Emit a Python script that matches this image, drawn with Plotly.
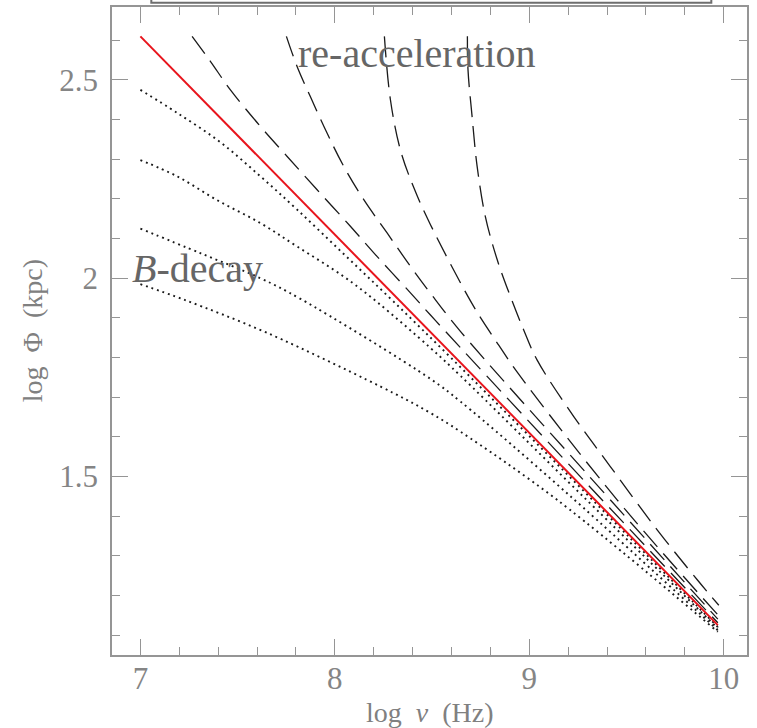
import plotly.graph_objects as go

# ---- data (log nu [Hz], log Phi [kpc]) ----
red_x = [7.0, 9.97]
red_y = [2.61, 1.125]

# re-acceleration curves (dashed)
a1_x = [7.266, 7.360, 7.463, 7.617, 7.755, 7.909, 8.080, 8.217, 8.389, 8.492, 8.646, 9.3, 9.97]
a1_y = [2.61, 2.547, 2.475, 2.383, 2.307, 2.223, 2.131, 2.055, 1.963, 1.907, 1.825, 1.48, 1.131]
a2_x = [7.751, 7.806, 7.874, 7.960, 8.046, 8.149, 8.269, 8.389, 8.492, 8.646, 9.3, 9.97]
a2_y = [2.61, 2.534, 2.458, 2.366, 2.282, 2.198, 2.114, 2.030, 1.962, 1.866, 1.505, 1.14]
a3_x = [8.255, 8.286, 8.337, 8.404, 8.492, 8.714, 8.843, 8.941, 9.452, 9.97]
a3_y = [2.61, 2.45, 2.324, 2.231, 2.135, 1.929, 1.831, 1.761, 1.441, 1.151]
a4_x = [8.682, 8.685, 8.706, 8.732, 8.774, 8.835, 8.903, 8.971, 9.040, 9.229, 9.417, 9.657, 9.863, 9.975]
a4_y = [2.61, 2.526, 2.408, 2.282, 2.156, 2.047, 1.954, 1.870, 1.794, 1.651, 1.525, 1.366, 1.24, 1.175]

# B-decay curves (dotted)
d1_x = [7.0, 7.189, 7.411, 7.617, 7.806, 8.05, 8.3, 8.6, 9.0, 9.5, 9.97]
d1_y = [2.475, 2.417, 2.343, 2.257, 2.173, 2.059, 1.942, 1.798, 1.602, 1.354, 1.120]
d2_x = [7.0, 7.189, 7.394, 7.617, 7.806, 8.046, 8.217, 8.492, 8.646, 9.28, 9.97]
d2_y = [2.298, 2.257, 2.197, 2.139, 2.080, 2.004, 1.940, 1.824, 1.754, 1.448, 1.117]
d3_x = [7.0, 7.309, 7.617, 7.823, 8.492, 8.646, 9.212, 9.97]
d3_y = [2.125, 2.063, 2.0, 1.948, 1.746, 1.689, 1.45, 1.112]
d4_x = [7.0, 7.223, 7.652, 8.303, 8.492, 8.646, 9.143, 9.97]
d4_y = [1.985, 1.946, 1.862, 1.710, 1.660, 1.613, 1.441, 1.108]

x_major = [7, 8, 9, 10]
x_major_text = ["7", "8", "9", "10"]
x_minor = [7.2, 7.4, 7.6, 7.8, 8.2, 8.4, 8.6, 8.8, 9.2, 9.4, 9.6, 9.8]
y_major = [1.5, 2.0, 2.5]
y_major_text = ["1.5", "2", "2.5"]
y_minor = [1.1, 1.2, 1.3, 1.4, 1.6, 1.7, 1.8, 1.9, 2.1, 2.2, 2.3, 2.4, 2.6]

DASH_STYLE = dict(color="#1a1a1a", width=1.3, dash="21px,9px", shape="spline")
DOT_STYLE = dict(color="#1a1a1a", width=1.9, dash="1.9px,3.9px", shape="spline")

fig = go.Figure()
for xs, ys in [(a1_x, a1_y), (a2_x, a2_y), (a3_x, a3_y), (a4_x, a4_y)]:
    fig.add_trace(go.Scatter(x=xs, y=ys, mode="lines", line=DASH_STYLE, showlegend=False, hoverinfo="skip"))
for xs, ys in [(d1_x, d1_y), (d2_x, d2_y), (d3_x, d3_y), (d4_x, d4_y)]:
    fig.add_trace(go.Scatter(x=xs, y=ys, mode="lines", line=DOT_STYLE, showlegend=False, hoverinfo="skip"))
fig.add_trace(go.Scatter(x=red_x, y=red_y, mode="lines", line=dict(color="#e8141c", width=2.0),
                         showlegend=False, hoverinfo="skip"))

AX_COLOR = "#959595"
TICK_FONT = dict(family="Liberation Serif", size=31, color="#858585")

fig.update_xaxes(
    range=[6.854, 10.12], showgrid=False, zeroline=False,
    showline=True, linecolor=AX_COLOR, linewidth=1.5, mirror="allticks",
    tickmode="array", tickvals=x_major, ticktext=x_major_text,
    ticks="inside", ticklen=16, tickwidth=1.3, tickcolor=AX_COLOR,
    minor=dict(tickmode="array", tickvals=x_minor, ticks="inside", ticklen=8, tickwidth=1.3, tickcolor=AX_COLOR),
    tickfont=TICK_FONT, ticklabelstandoff=-5,
)
fig.update_yaxes(
    range=[1.0496, 2.684], showgrid=False, zeroline=False,
    showline=True, linecolor=AX_COLOR, linewidth=1.5, mirror="allticks",
    tickmode="array", tickvals=y_major, ticktext=y_major_text,
    ticks="inside", ticklen=16, tickwidth=1.3, tickcolor=AX_COLOR,
    minor=dict(tickmode="array", tickvals=y_minor, ticks="inside", ticklen=8, tickwidth=1.3, tickcolor=AX_COLOR),
    tickfont=TICK_FONT, ticklabelstandoff=6,
)

TITLE_FONT = dict(family="Liberation Serif", size=28, color="#808080")
LABEL_FONT = dict(family="Liberation Serif", size=40, color="#666666")

fig.update_layout(
    width=757, height=728,
    margin=dict(l=112, r=10, t=7, b=73, autoexpand=False),
    paper_bgcolor="white", plot_bgcolor="white",
    annotations=[
        dict(text="log\u2002<i>\u03bd</i>\u2002(Hz)", x=0.5, y=-0.088, xref="paper", yref="paper",
             showarrow=False, xanchor="center", yanchor="middle", font=TITLE_FONT),
        dict(text="log\u2002\u03a6\u2002(kpc)", x=-0.1255, y=0.5, xref="paper", yref="paper",
             showarrow=False, xanchor="center", yanchor="middle", textangle=-90, font=TITLE_FONT),
        dict(text="re-acceleration", x=0.4803, y=0.929, xref="paper", yref="paper",
             showarrow=False, xanchor="center", yanchor="middle", font=LABEL_FONT),
        dict(text="<i>B</i>-decay", x=0.1345, y=0.597, xref="paper", yref="paper",
             showarrow=False, xanchor="center", yanchor="middle", font=LABEL_FONT),
    ],
    shapes=[
        dict(type="rect", xref="paper", yref="paper", x0=0.0619, x1=0.9438, y0=1.0066, y1=1.05,
             line=dict(color="#6e6e6e", width=2), fillcolor="rgba(0,0,0,0)", layer="above"),
    ],
)

fig.write_html("out.html")
